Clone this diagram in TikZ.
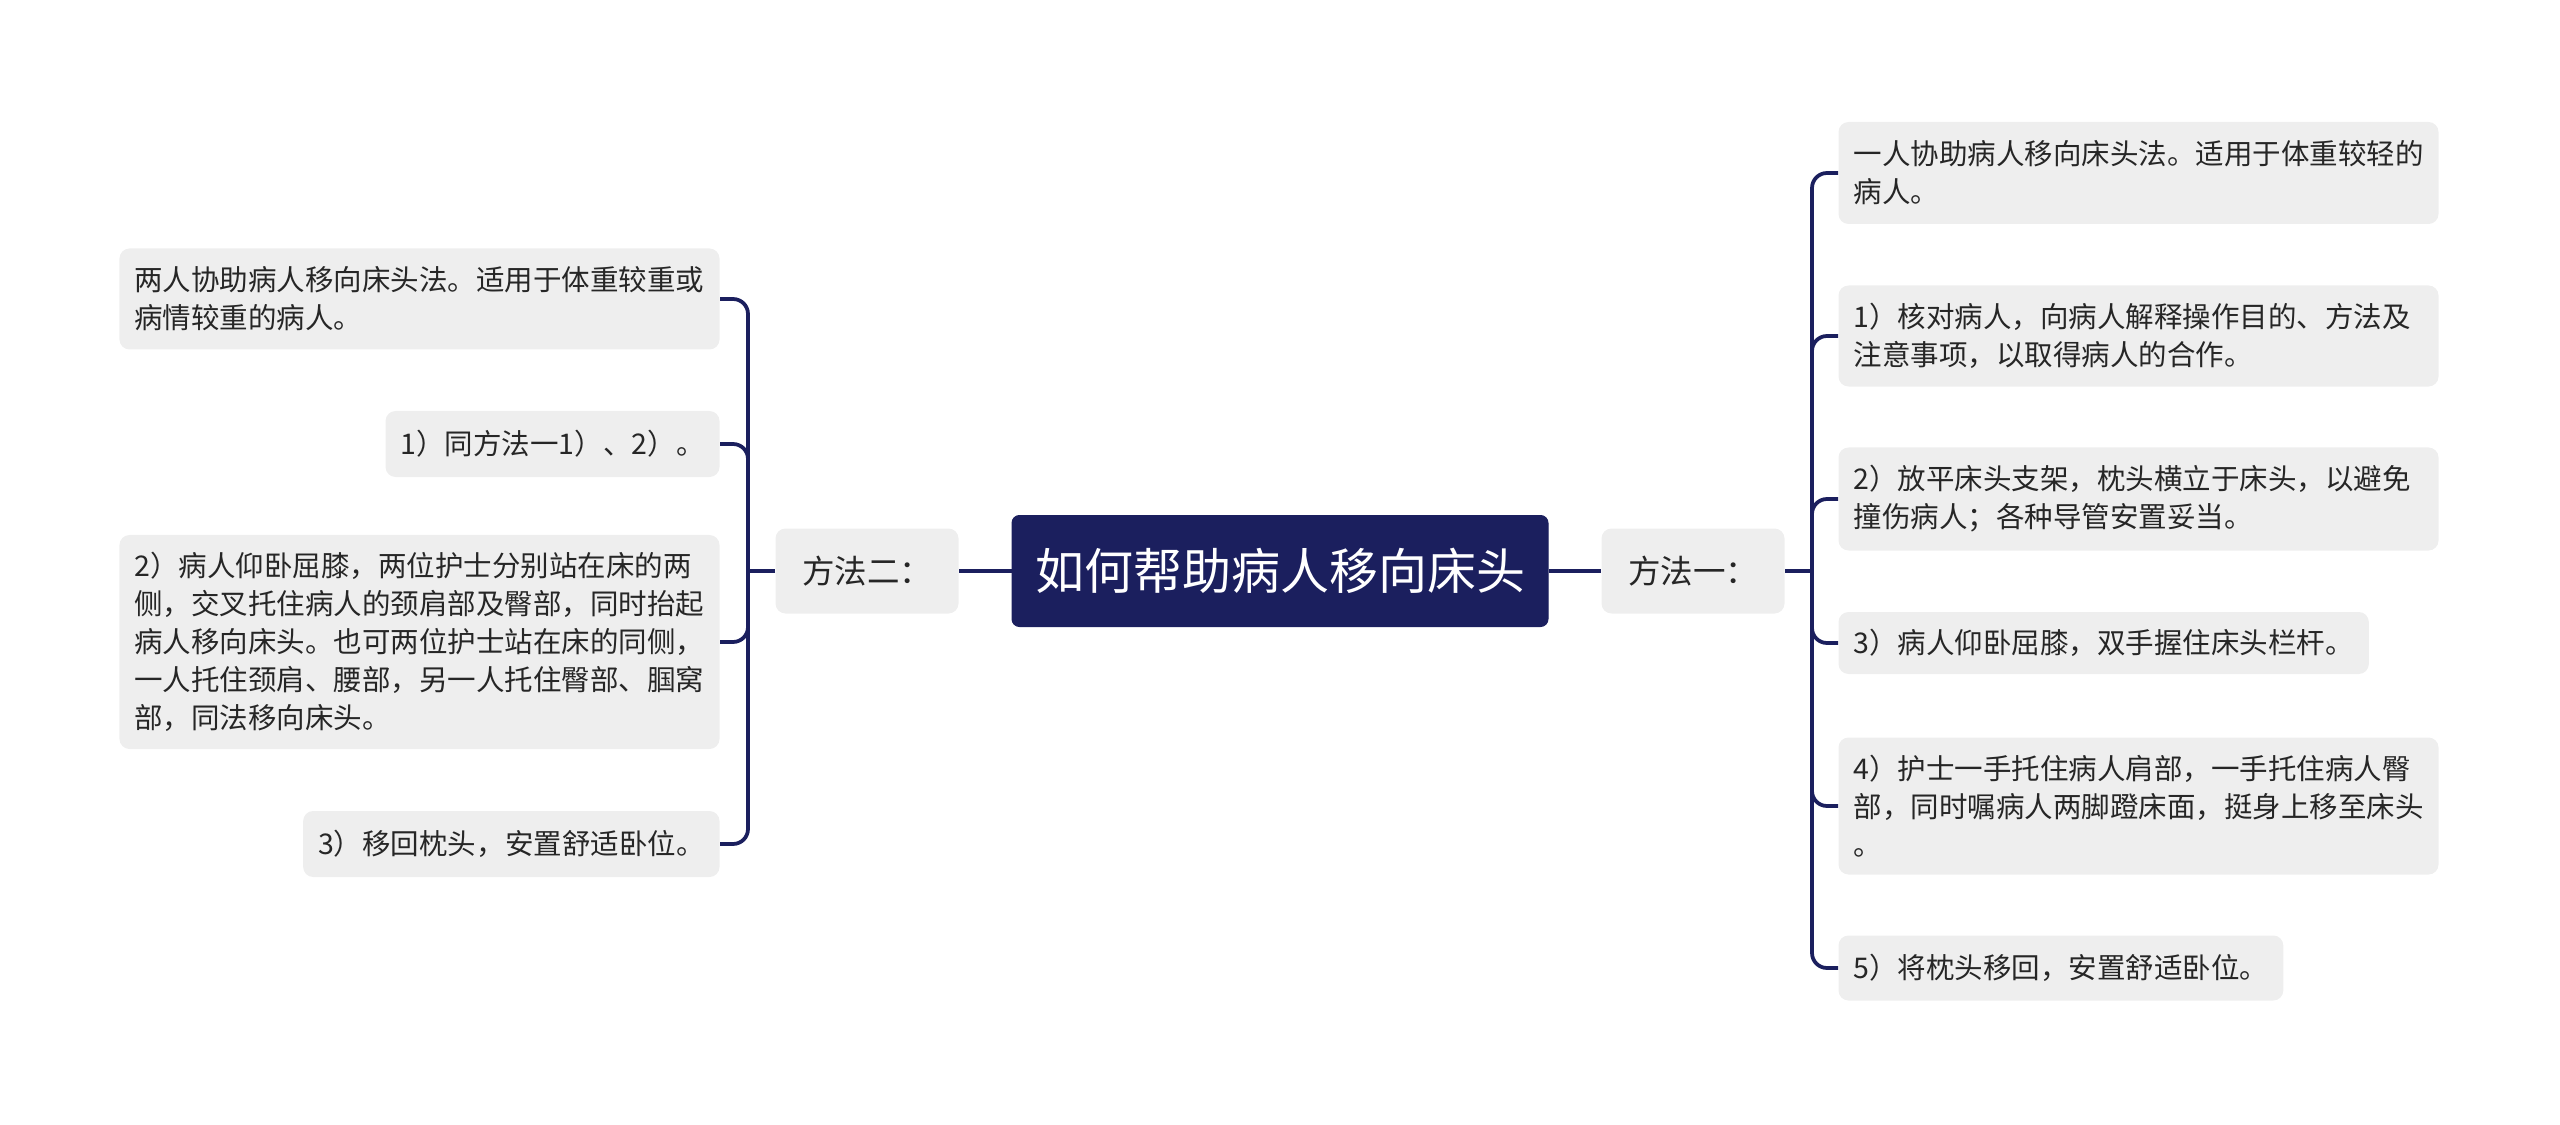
\documentclass[tikz,border=0pt]{standalone}
\usepackage{fontspec}
\setmainfont{Noto Sans CJK SC}
\definecolor{navy}{HTML}{1B1F5E}
\definecolor{leafgray}{HTML}{EEEEEE}
\definecolor{txt}{HTML}{262626}
\begin{document}
\begin{tikzpicture}[x=0.4pt,y=-0.4pt,
  leaf/.style={fill=leafgray, rounded corners=4pt, align=left, text=txt,
    font=\fontsize{11.4}{15.2}\selectfont, inner xsep=6pt, inner ysep=0pt},
  wide/.style={text width=228pt},
  titlebox/.style={fill=navy, draw=navy, text=white, rounded corners=3pt,
    font=\fontsize{19.6}{22}\selectfont, minimum width=214.4pt, minimum height=44.4pt, inner sep=0pt},
  methodbox/.style={fill=leafgray, rounded corners=4pt, text=txt,
    font=\fontsize{13}{15}\selectfont, minimum width=73.2pt, minimum height=34pt, inner sep=0pt},
  conn/.style={draw=navy, line width=1.5pt, rounded corners=6pt}]
\useasboundingbox (0,0) rectangle (2560,1125);

\node[titlebox] (root) at (1280,571) {如何帮助病人移向床头};
\node[methodbox] (m2) at (867,571) {方法二：};
\node[methodbox] (m1) at (1693,571) {方法一：};

% left leaves
\node[leaf, wide, anchor=east, minimum height=40.4pt] (l1) at (720,299)
  {两人协助病人移向床头法。适用于体重较重或\\病情较重的病人。};
\node[leaf, anchor=east, minimum height=26.4pt] (l2) at (720,444)
  {1）同方法一1）、2）。};
\node[leaf, wide, anchor=east, minimum height=85.6pt] (l3) at (720,642)
  {2）病人仰卧屈膝，两位护士分别站在床的两\\侧，交叉托住病人的颈肩部及臀部，同时抬起\\病人移向床头。也可两位护士站在床的同侧，\\一人托住颈肩、腰部，另一人托住臀部、腘窝\\部，同法移向床头。};
\node[leaf, anchor=east, minimum height=26.4pt] (l4) at (720,844)
  {3）移回枕头，安置舒适卧位。};

% right leaves
\node[leaf, wide, anchor=west, minimum height=40.8pt] (r1) at (1838,173)
  {一人协助病人移向床头法。适用于体重较轻的\\病人。};
\node[leaf, wide, anchor=west, minimum height=40.4pt] (r2) at (1838,336)
  {1）核对病人，向病人解释操作目的、方法及\\注意事项，以取得病人的合作。};
\node[leaf, wide, anchor=west, minimum height=41.2pt] (r3) at (1838,499)
  {2）放平床头支架，枕头横立于床头，以避免\\撞伤病人；各种导管安置妥当。};
\node[leaf, anchor=west, minimum height=24.8pt] (r4) at (1838,643)
  {3）病人仰卧屈膝，双手握住床头栏杆。};
\node[leaf, wide, anchor=west, minimum height=54.8pt] (r5) at (1838,806)
  {4）护士一手托住病人肩部，一手托住病人臀\\部，同时嘱病人两脚蹬床面，挺身上移至床头\\。};
\node[leaf, anchor=west, minimum height=26pt] (r6) at (1838,968)
  {5）将枕头移回，安置舒适卧位。};

\coordinate (jl) at (748,571);
\coordinate (jr) at (1812,571);

\draw[conn] (root.west) -- (m2.east);
\draw[conn] (root.east) -- (m1.west);
\draw[conn] (m2.west) -- (jl);
\draw[conn] (m1.east) -- (jr);

\foreach \n in {l1,l2,l3,l4} \draw[conn] (jl) |- (\n.east);
\foreach \n in {r1,r2,r3,r4,r5,r6} \draw[conn] (jr) |- (\n.west);
\end{tikzpicture}
\end{document}
